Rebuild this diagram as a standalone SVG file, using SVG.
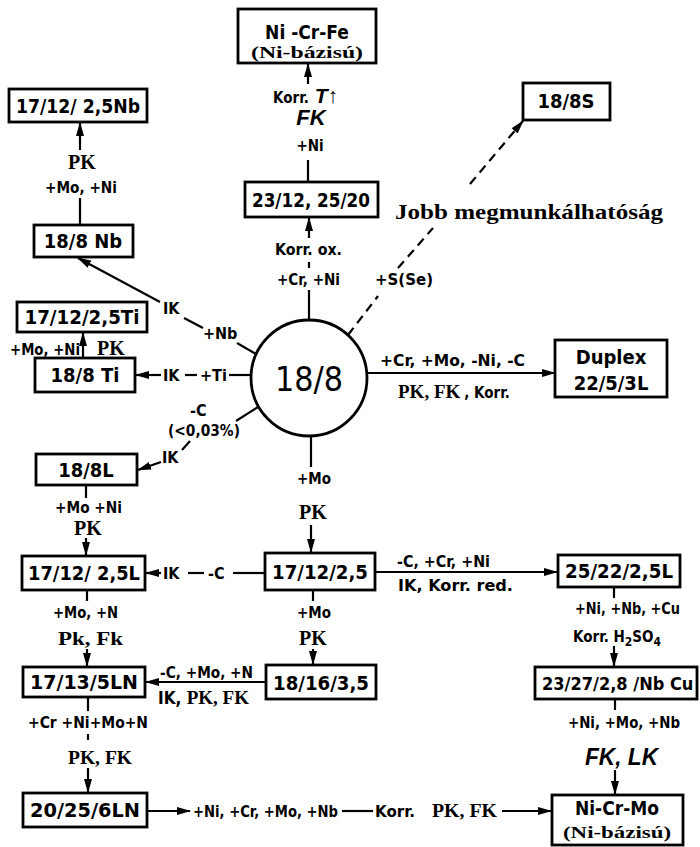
<svg xmlns="http://www.w3.org/2000/svg" width="700" height="847" viewBox="0 0 700 847">
<defs>
<style>
.box{fill:#fff;stroke:#000;stroke-width:2.8}
.bt{font-family:"DejaVu Sans Condensed","Liberation Sans",sans-serif;font-weight:bold;fill:#000;text-anchor:middle}
.lb{font-family:"DejaVu Sans Condensed","Liberation Sans",sans-serif;font-weight:bold;fill:#000}
.pk{font-family:"Liberation Serif",serif;font-weight:bold;fill:#000}
.fi{font-family:"Liberation Sans",sans-serif;font-weight:bold;font-style:italic;fill:#000}
.sf{font-family:"Liberation Serif",serif;font-weight:bold;fill:#000}
.ln{stroke:#000;stroke-width:2.2;fill:none}
.ds{stroke-dasharray:9 6}
</style>
<marker id="ah" markerWidth="14" markerHeight="10" refX="13" refY="5" orient="auto" markerUnits="userSpaceOnUse">
<path d="M0,1 L14,5 L0,9 z" fill="#000"/>
</marker>
</defs>
<rect width="700" height="847" fill="#fff"/>

<g id="connectors">
<line class="ln" x1="309" y1="320" x2="309" y2="290"/>
<line class="ln" x1="309" y1="268" x2="309" y2="262"/>
<line class="ln" x1="309" y1="238" x2="309" y2="218" marker-end="url(#ah)"/>
<line class="ln" x1="308" y1="182" x2="308" y2="160"/>
<line class="ln" x1="308" y1="84" x2="308" y2="64" marker-end="url(#ah)"/>
<line class="ln ds" x1="348" y1="335" x2="378" y2="296"/>
<line class="ln ds" x1="398" y1="268" x2="433" y2="228"/>
<line class="ln ds" x1="470" y1="184" x2="523" y2="121" marker-end="url(#ah)"/>
<line class="ln" x1="366" y1="373" x2="555" y2="373" marker-end="url(#ah)"/>
<line class="ln" x1="256" y1="354" x2="237" y2="343"/>
<line class="ln" x1="203" y1="328" x2="184" y2="318"/>
<line class="ln" x1="160" y1="302" x2="78" y2="258" marker-end="url(#ah)"/>
<line class="ln" x1="80" y1="225" x2="80" y2="198"/>
<line class="ln" x1="80" y1="150" x2="80" y2="123" marker-end="url(#ah)"/>
<line class="ln" x1="83" y1="358" x2="83" y2="333" marker-end="url(#ah)"/>
<line class="ln" x1="251" y1="375" x2="229" y2="375"/>
<line class="ln" x1="185" y1="375" x2="197" y2="375"/>
<line class="ln" x1="161" y1="375" x2="136" y2="375" marker-end="url(#ah)"/>
<line class="ln" x1="258" y1="407" x2="236" y2="421"/>
<line class="ln" x1="190" y1="441" x2="182" y2="450"/>
<line class="ln" x1="161" y1="462" x2="138" y2="470" marker-end="url(#ah)"/>
<line class="ln" x1="86" y1="485" x2="86" y2="498"/>
<line class="ln" x1="86" y1="538" x2="86" y2="555" marker-end="url(#ah)"/>
<line class="ln" x1="265" y1="573" x2="233" y2="573"/>
<line class="ln" x1="188" y1="573" x2="204" y2="573"/>
<line class="ln" x1="161" y1="573" x2="146" y2="573" marker-end="url(#ah)"/>
<line class="ln" x1="311" y1="436" x2="311" y2="467"/>
<line class="ln" x1="311" y1="525" x2="311" y2="552" marker-end="url(#ah)"/>
<line class="ln" x1="375" y1="572" x2="557" y2="572" marker-end="url(#ah)"/>
<line class="ln" x1="313" y1="590" x2="313" y2="601"/>
<line class="ln" x1="313" y1="649" x2="313" y2="664" marker-end="url(#ah)"/>
<line class="ln" x1="266" y1="682" x2="146" y2="682" marker-end="url(#ah)"/>
<line class="ln" x1="87" y1="590" x2="87" y2="601"/>
<line class="ln" x1="87" y1="649" x2="87" y2="666" marker-end="url(#ah)"/>
<line class="ln" x1="88" y1="697" x2="88" y2="711"/>
<line class="ln" x1="88" y1="734" x2="88" y2="740"/>
<line class="ln" x1="88" y1="768" x2="88" y2="792" marker-end="url(#ah)"/>
<line class="ln" x1="147" y1="811" x2="190" y2="811" marker-end="url(#ah)"/>
<line class="ln" x1="342" y1="811" x2="373" y2="811"/>
<line class="ln" x1="502" y1="811" x2="551" y2="811" marker-end="url(#ah)"/>
<line class="ln" x1="614" y1="587" x2="614" y2="598"/>
<line class="ln" x1="614" y1="646" x2="614" y2="666" marker-end="url(#ah)"/>
<line class="ln" x1="615" y1="699" x2="615" y2="710"/>
<line class="ln" x1="615" y1="770" x2="615" y2="794" marker-end="url(#ah)"/>
</g>

<g id="labels">
<text x="273" y="103" class="lb" style="font-size:15px">Korr.<tspan class="fi" dx="6" style="font-size:21px">T↑</tspan></text>
<text x="311" y="125" class="fi" style="font-size:22px;text-anchor:middle">FK</text>
<text x="310" y="151" class="lb" style="font-size:15px;text-anchor:middle">+Ni</text>
<text x="275" y="255" class="lb" style="font-size:15px" textLength="67" lengthAdjust="spacingAndGlyphs">Korr. ox.</text>
<text x="277" y="285" class="lb" style="font-size:15px" textLength="63" lengthAdjust="spacingAndGlyphs">+Cr, +Ni</text>
<text x="375" y="285" class="lb" style="font-size:15px" textLength="58" lengthAdjust="spacingAndGlyphs">+S(Se)</text>
<text x="395" y="219" class="sf" style="font-size:21px" textLength="268" lengthAdjust="spacingAndGlyphs">Jobb megmunkálhatóság</text>
<text x="380" y="366" class="lb" style="font-size:15px" textLength="145" lengthAdjust="spacingAndGlyphs">+Cr, +Mo, -Ni, -C</text>
<text x="398" y="398" class="pk" style="font-size:19px">PK, FK<tspan class="lb" dx="4" style="font-size:15px">, Korr.</tspan></text>
<text x="82" y="169" class="pk" style="font-size:20px;text-anchor:middle">PK</text>
<text x="45" y="193" class="lb" style="font-size:15px" textLength="72" lengthAdjust="spacingAndGlyphs">+Mo, +Ni</text>
<text x="163" y="314" class="lb" style="font-size:16px">IK</text>
<text x="203" y="339" class="lb" style="font-size:16px">+Nb</text>
<text x="10" y="355" class="lb" style="font-size:15px" textLength="70" lengthAdjust="spacingAndGlyphs">+Mo, +Ni</text>
<text x="97" y="355" class="pk" style="font-size:20px">PK</text>
<text x="163" y="381" class="lb" style="font-size:16px">IK</text>
<text x="200" y="381" class="lb" style="font-size:16px">+Ti</text>
<text x="190" y="416" class="lb" style="font-size:16px">-C</text>
<text x="168" y="436" class="lb" style="font-size:15px" textLength="72" lengthAdjust="spacingAndGlyphs">(&lt;0,03%)</text>
<text x="162" y="463" class="lb" style="font-size:16px">IK</text>
<text x="55" y="513" class="lb" style="font-size:15px" textLength="67" lengthAdjust="spacingAndGlyphs">+Mo +Ni</text>
<text x="88" y="535" class="pk" style="font-size:20px;text-anchor:middle">PK</text>
<text x="163" y="579" class="lb" style="font-size:16px">IK</text>
<text x="208" y="579" class="lb" style="font-size:16px">-C</text>
<text x="297" y="484" class="lb" style="font-size:15px">+Mo</text>
<text x="313" y="519" class="pk" style="font-size:20px;text-anchor:middle">PK</text>
<text x="397" y="567" class="lb" style="font-size:15px" textLength="93" lengthAdjust="spacingAndGlyphs">-C, +Cr, +Ni</text>
<text x="398" y="591" class="lb" style="font-size:16px" textLength="115" lengthAdjust="spacingAndGlyphs">IK, Korr. red.</text>
<text x="297" y="618" class="lb" style="font-size:15px">+Mo</text>
<text x="313" y="645" class="pk" style="font-size:20px;text-anchor:middle">PK</text>
<text x="53" y="618" class="lb" style="font-size:15px" textLength="65" lengthAdjust="spacingAndGlyphs">+Mo, +N</text>
<text x="58" y="645" class="pk" style="font-size:19px" textLength="65" lengthAdjust="spacingAndGlyphs">Pk, Fk</text>
<text x="160" y="678" class="lb" style="font-size:15px" textLength="93" lengthAdjust="spacingAndGlyphs">-C, +Mo, +N</text>
<text x="158" y="704" class="lb" style="font-size:17px">IK, <tspan class="pk" style="font-size:19px">PK, FK</tspan></text>
<text x="28" y="728" class="lb" style="font-size:15px" textLength="120" lengthAdjust="spacingAndGlyphs">+Cr +Ni+Mo+N</text>
<text x="68" y="764" class="pk" style="font-size:19px" textLength="64" lengthAdjust="spacingAndGlyphs">PK, FK</text>
<text x="193" y="817" class="lb" style="font-size:15px" textLength="145" lengthAdjust="spacingAndGlyphs">+Ni, +Cr, +Mo, +Nb</text>
<text x="375" y="817" class="lb" style="font-size:15px" textLength="40" lengthAdjust="spacingAndGlyphs">Korr.</text>
<text x="432" y="817" class="pk" style="font-size:19px" textLength="65" lengthAdjust="spacingAndGlyphs">PK, FK</text>
<text x="575" y="614" class="lb" style="font-size:15px" textLength="105" lengthAdjust="spacingAndGlyphs">+Ni, +Nb, +Cu</text>
<text x="573" y="642" class="lb" style="font-size:15px">Korr. H<tspan dy="4" style="font-size:12px">2</tspan><tspan dy="-4">SO</tspan><tspan dy="4" style="font-size:12px">4</tspan></text>
<text x="568" y="728" class="lb" style="font-size:15px" textLength="112" lengthAdjust="spacingAndGlyphs">+Ni, +Mo, +Nb</text>
<text x="585" y="765" class="fi" style="font-size:23px" textLength="73" lengthAdjust="spacingAndGlyphs">FK, LK</text>
</g>

<g id="n-nicrfe"><rect class="box" x="238" y="9" width="138" height="54"/>
<text class="bt" x="307" y="39" style="font-size:19px">Ni -Cr-Fe</text>
<text class="sf" x="307" y="58" style="font-size:17px;text-anchor:middle" textLength="112" lengthAdjust="spacingAndGlyphs">(Ni-bázisú)</text></g>
<g id="n-2312"><rect class="box" x="245" y="182" width="133" height="35"/>
<text class="bt" x="311" y="207" style="font-size:20px" textLength="118" lengthAdjust="spacingAndGlyphs">23/12, 25/20</text></g>
<g id="n-188"><circle cx="309" cy="378" r="58" fill="#fff" stroke="#000" stroke-width="2.8"/>
<text class="bt" x="309" y="391" style="font-size:34px;font-weight:normal" textLength="68" lengthAdjust="spacingAndGlyphs">18/8</text></g>
<g id="n-188s"><rect class="box" x="523" y="83" width="87" height="37"/>
<text class="bt" x="566" y="108" style="font-size:20px">18/8S</text></g>
<g id="n-duplex"><rect class="box" x="555" y="340" width="112" height="57"/>
<text class="bt" x="611" y="364" style="font-size:20px">Duplex</text>
<text class="bt" x="611" y="390" style="font-size:20px">22/5/3L</text></g>
<g id="n-17122nb"><rect class="box" x="9" y="89" width="138" height="33"/>
<text class="bt" x="78" y="113" style="font-size:20px" textLength="124" lengthAdjust="spacingAndGlyphs">17/12/ 2,5Nb</text></g>
<g id="n-188nb"><rect class="box" x="34" y="225" width="99" height="32"/>
<text class="bt" x="83" y="248" style="font-size:20px">18/8 Nb</text></g>
<g id="n-17122ti"><rect class="box" x="17" y="302" width="130" height="30"/>
<text class="bt" x="82" y="324" style="font-size:20px" textLength="115" lengthAdjust="spacingAndGlyphs">17/12/2,5Ti</text></g>
<g id="n-188ti"><rect class="box" x="35" y="358" width="100" height="34"/>
<text class="bt" x="85" y="382" style="font-size:20px">18/8 Ti</text></g>
<g id="n-188l"><rect class="box" x="36" y="454" width="101" height="31"/>
<text class="bt" x="86" y="477" style="font-size:20px">18/8L</text></g>
<g id="n-17122l"><rect class="box" x="22" y="556" width="123" height="34"/>
<text class="bt" x="84" y="580" style="font-size:20px" textLength="112" lengthAdjust="spacingAndGlyphs">17/12/ 2,5L</text></g>
<g id="n-17122"><rect class="box" x="265" y="553" width="110" height="37"/>
<text class="bt" x="320" y="579" style="font-size:20px" textLength="96" lengthAdjust="spacingAndGlyphs">17/12/2,5</text></g>
<g id="n-25222l"><rect class="box" x="558" y="555" width="122" height="32"/>
<text class="bt" x="619" y="578" style="font-size:20px" textLength="108" lengthAdjust="spacingAndGlyphs">25/22/2,5L</text></g>
<g id="n-18163"><rect class="box" x="266" y="665" width="110" height="34"/>
<text class="bt" x="321" y="690" style="font-size:20px" textLength="96" lengthAdjust="spacingAndGlyphs">18/16/3,5</text></g>
<g id="n-17135ln"><rect class="box" x="23" y="667" width="122" height="30"/>
<text class="bt" x="84" y="689" style="font-size:20px" textLength="108" lengthAdjust="spacingAndGlyphs">17/13/5LN</text></g>
<g id="n-23272"><rect class="box" x="535" y="667" width="162" height="32"/>
<text class="bt" x="542" y="690" style="font-size:18px;text-anchor:start">23/27/2,8 /Nb Cu</text></g>
<g id="n-20256ln"><rect class="box" x="23" y="793" width="124" height="34"/>
<text class="bt" x="85" y="817" style="font-size:20px" textLength="110" lengthAdjust="spacingAndGlyphs">20/25/6LN</text></g>
<g id="n-nicrmo"><rect class="box" x="552" y="795" width="131" height="50"/>
<text class="bt" x="617" y="815" style="font-size:19px">Ni-Cr-Mo</text>
<text class="sf" x="617" y="838" style="font-size:17px;text-anchor:middle" textLength="108" lengthAdjust="spacingAndGlyphs">(Ni-bázisú)</text></g>
</svg>
